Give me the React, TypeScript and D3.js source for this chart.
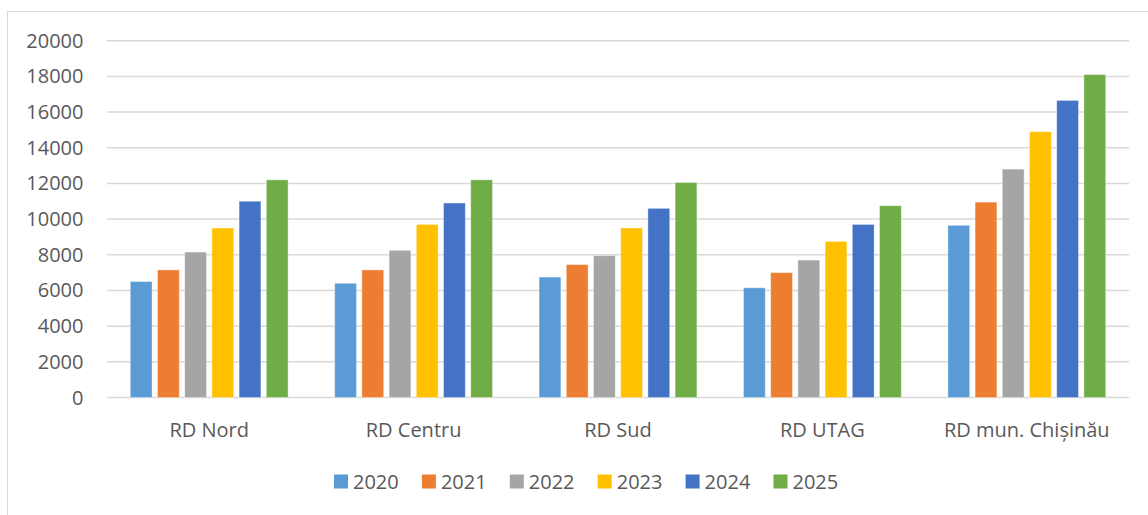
import React from "react";
import * as d3 from "d3";

const categories = ["RD Nord", "RD Centru", "RD Sud", "RD UTAG", "RD mun. Chișinău"];
const years = ["2020", "2021", "2022", "2023", "2024", "2025"];
const colors = ["#5b9bd5", "#ed7d31", "#a5a5a5", "#ffc000", "#4472c4", "#70ad47"];

// one array per year, in category order
const v2020 = [6500, 6400, 6750, 6150, 9650];
const v2021 = [7150, 7150, 7450, 7000, 10950];
const v2022 = [8150, 8250, 7950, 7700, 12800];
const v2023 = [9500, 9700, 9500, 8750, 14900];
const v2024 = [11000, 10900, 10600, 9700, 16650];
const v2025 = [12200, 12200, 12050, 10750, 18100];
const series = [v2020, v2021, v2022, v2023, v2024, v2025];

const yTicks = [0, 2000, 4000, 6000, 8000, 10000, 12000, 14000, 16000, 18000, 20000];

export default function App() {
    const width = 1148;
    const height = 515;
    const left = 107;
    const right = 1129;
    const top = 40.7;
    const bottom = 397.5;
    const font = "'Open Sans', sans-serif";
    const textColor = "#595959";

    const x0 = d3.scaleBand().domain(categories).range([left, right]).padding(0);
    const groupPad = 23.3;
    const x1 = d3.scaleBand()
        .domain(years)
        .range([groupPad, x0.bandwidth() - groupPad])
        .paddingInner(0.2)
        .paddingOuter(0);
    const y = d3.scaleLinear().domain([0, 20000]).range([bottom, top]);

    // legend layout
    const legendX = 334;
    const legendStep = 87.9;
    const legendY = 474.5;

    return (
        <svg
            width={width}
            height={height}
            style={{ position: "absolute", left: 0, top: 0, background: "#fff" }}
            fontFamily={font}
        >
            {/* chart frame */}
            <rect x={7.5} y={11.5} width={1160} height={520} fill="#fff" stroke="#d9d9d9" strokeWidth={1} />

            {/* grid and y labels */}
            {yTicks.map((t) => (
                <g key={t}>
                    <line x1={left} x2={right} y1={y(t)} y2={y(t)} stroke="#d9d9d9" strokeWidth={1.5} />
                    <text x={83.5} y={y(t)} dy="0.35em" textAnchor="end" fontSize={20} fill={textColor}>
                        {t}
                    </text>
                </g>
            ))}

            {/* bars */}
            {categories.map((c, ci) => (
                <g key={c} transform={`translate(${x0(c)},0)`}>
                    {years.map((yr, si) => (
                        <rect
                            key={yr}
                            x={x1(yr)}
                            y={y(series[si][ci])}
                            width={x1.bandwidth()}
                            height={bottom - y(series[si][ci])}
                            fill={colors[si]}
                            stroke="#fff"
                            strokeOpacity={0.35}
                            strokeWidth={1}
                        />
                    ))}
                </g>
            ))}

            {/* category labels */}
            {categories.map((c) => (
                <text
                    key={c}
                    x={(x0(c) || 0) + x0.bandwidth() / 2}
                    y={436.5}
                    textAnchor="middle"
                    fontSize={20}
                    fill={textColor}
                >
                    {c}
                </text>
            ))}

            {/* legend */}
            {years.map((yr, i) => (
                <g key={yr} transform={`translate(${legendX + i * legendStep},${legendY})`}>
                    <rect x={0} y={0} width={14} height={14} fill={colors[i]} />
                    <text x={19} y={14} fontSize={20} fill={textColor}>
                        {yr}
                    </text>
                </g>
            ))}
        </svg>
    );
}
